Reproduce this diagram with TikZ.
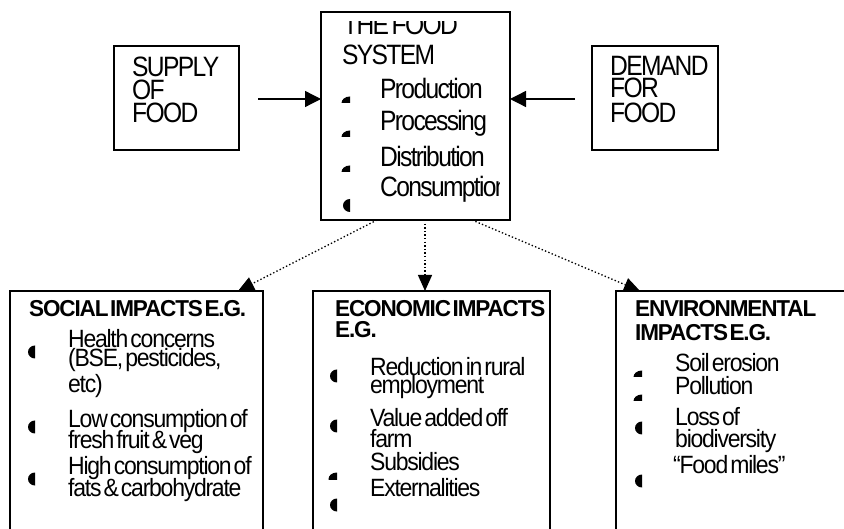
\documentclass[tikz,border=0pt]{standalone}
\usepackage{fontspec}
\usetikzlibrary{arrows.meta,calc}
% tightly set Arial-metric faces
\newfontfamily\topfont{Liberation Sans}[FakeStretch=0.88, LetterSpace=-6, WordSpace=0.5]
\newfontfamily\itemfont{Liberation Sans}[FakeStretch=0.92, LetterSpace=-5, WordSpace=0.4]
\newfontfamily\headfont{Liberation Sans}[FakeStretch=0.98, LetterSpace=-5, WordSpace=0.3]

\tikzset{
  box/.style={draw, line width=1.3pt, inner sep=0pt, outer sep=0pt, anchor=north west},
  toptext/.style={anchor=base west, inner sep=0pt, font=\topfont\fontsize{28}{30}\selectfont},
  headtext/.style={anchor=base west, inner sep=0pt, font=\headfont\bfseries\fontsize{23}{25}\selectfont},
  itemtext/.style={anchor=base west, inner sep=0pt, font=\itemfont\fontsize{25}{27}\selectfont},
  feed/.style={line width=1.3pt, -{Triangle[length=16pt,width=16pt]}},
  impact/.style={line width=1.3pt, dash pattern=on 1.4pt off 2.2pt, -{Triangle[length=16pt,width=14pt]}},
  halfdot/.pic={\clip (-8,-8) rectangle (0,8); \fill (0,0) ellipse [x radius=7, y radius=6.5];},
  quarterdot/.pic={\clip (-9,-9) rectangle (0,0); \fill (0,0) ellipse [x radius=8.5, y radius=6.5];},
}

\begin{document}
\begin{tikzpicture}[x=1pt,y=-1pt]
\useasboundingbox (0,0) rectangle (844,529);
\clip (0,0) rectangle (844,529);

% boxes
\node[box, minimum width=125pt, minimum height=104pt] (supply) at (114,46) {};
\node[box, minimum width=189pt, minimum height=208pt] (food) at (321,12) {};
\node[box, minimum width=126pt, minimum height=104pt] (demand) at (592,46) {};
\node[box, minimum width=253pt, minimum height=260pt] (social) at (10,291) {};
\node[box, minimum width=237pt, minimum height=260pt] (econ) at (313,291) {};
\node[box, minimum width=260pt, minimum height=260pt] (env) at (616,291) {};

% supply and demand feeding the food system
\coordinate (supply-tail) at ($(supply.east)+(19,1)$);
\coordinate (demand-tail) at ($(demand.west)+(-17,1)$);
\draw[feed] (supply-tail) -- (supply-tail -| food.west);
\draw[feed] (demand-tail) -- (demand-tail -| food.east);

% impacts of the food system
\draw[impact] ($(food.south west)+(56,0)$) -- ($(social.north west)+(228,0)$);
\draw[impact] ($(food.south west)+(104,0)$) -- ($(econ.north west)+(112,0)$);
\draw[impact] ($(food.south west)+(151,0)$) -- ($(env.north west)+(24,0)$);

% supply of food
\node[toptext] (sup1) at (132,77) {SUPPLY};
\node[toptext] (sup2) at (132,100) {OF};
\node[toptext] (sup3) at (132,123) {FOOD};

% demand for food
\node[toptext] (dem1) at (610,76) {DEMAND};
\node[toptext] (dem2) at (610,98) {FOR};
\node[toptext] (dem3) at (610,123) {FOOD};

% the food system
\begin{scope}
  \clip (330,22) rectangle (505,40);
  \node[toptext] (fs1) at (343,35) {THE FOOD};
\end{scope}
\node[toptext] (fs2) at (342,65) {SYSTEM};
\node[toptext] (fs3) at (380,99) {Production};
\node[toptext] (fs4) at (380,131) {Processing};
\node[toptext] (fs5) at (380,167) {Distribution};
\begin{scope}
  \clip (370,170) rectangle (499,210);
  \node[toptext] (fs6) at (380,197) {Consumption};
\end{scope}
\pic at (350,103) {quarterdot};
\pic at (350,137) {quarterdot};
\pic at (350,172) {quarterdot};
\pic at (350,205.5) {halfdot};

% social impacts
\node[headtext] (soc0) at (29,317) {SOCIAL IMPACTS E.G.};
\node[itemtext] (soc1) at (68,348) {Health concerns};
\node[itemtext] (soc2) at (68,367) {(BSE, pesticides,};
\node[itemtext] (soc3) at (68,392) {etc)};
\node[itemtext] (soc4) at (68,428) {Low consumption of};
\node[itemtext] (soc5) at (68,448) {fresh fruit \& veg};
\node[itemtext] (soc6) at (68,474) {High consumption of};
\node[itemtext] (soc7) at (68,496) {fats \& carbohydrate};
\pic at (35,352) {halfdot};
\pic at (35,427) {halfdot};
\pic at (35,479) {halfdot};

% economic impacts
\node[headtext] (eco0) at (335,317) {ECONOMIC IMPACTS};
\node[headtext] (eco1) at (335,338) {E.G.};
\node[itemtext] (eco2) at (370,376) {Reduction in rural};
\node[itemtext] (eco3) at (370,394) {employment};
\node[itemtext] (eco4) at (370,427) {Value added off};
\node[itemtext] (eco5) at (370,447) {farm};
\node[itemtext] (eco6) at (370,470) {Subsidies};
\node[itemtext] (eco7) at (370,496) {Externalities};
\pic at (337,376) {halfdot};
\pic at (337,426) {halfdot};
\pic at (337,479) {quarterdot};
\pic at (337,505) {halfdot};

% environmental impacts
\node[headtext] (env0) at (635,317) {ENVIRONMENTAL};
\node[headtext] (env1) at (635,341) {IMPACTS E.G.};
\node[itemtext] (env2) at (675,372) {Soil erosion};
\node[itemtext] (env3) at (675,395) {Pollution};
\node[itemtext] (env4) at (675,425) {Loss of};
\node[itemtext] (env5) at (675,447) {biodiversity};
\node[itemtext] (env6) at (673,473) {“Food miles”};
\pic at (642,377) {quarterdot};
\pic at (642,401) {quarterdot};
\pic at (642,428) {halfdot};
\pic at (642,481) {halfdot};
\end{tikzpicture}
\end{document}
